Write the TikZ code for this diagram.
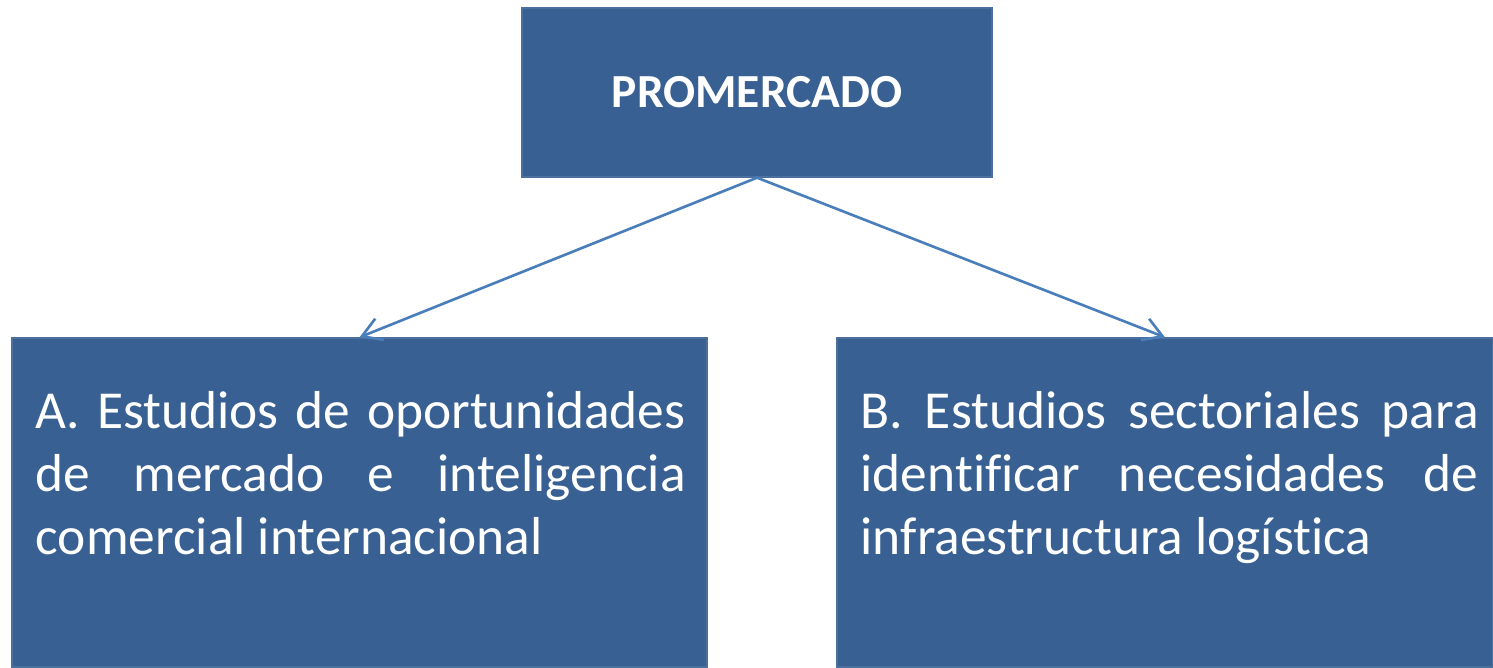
\documentclass[tikz,border=0pt]{standalone}
\usepackage{fontspec}
\setmainfont{Carlito}[Ligatures=NoCommon]
\usepackage{tikz}
\usetikzlibrary{arrows.meta}
\definecolor{boxblue}{RGB}{56,96,146}
\definecolor{linkblue}{RGB}{74,126,187}
\tikzstyle{blk}=[rectangle, inner sep=0pt, draw=boxblue!90!white, line width=0.4pt, fill=boxblue]
\tikzstyle{head}=[font=\fontsize{13.5}{16}\selectfont\bfseries, text=white]
\tikzstyle{body}=[anchor=north west, inner sep=0pt, text=white, align=justify, font=\fontsize{15.2}{17.9}\selectfont]
\tikzstyle{link}=[draw=linkblue, line width=0.75pt, -{Straight Barb[length=5.4pt, width=6.5pt]}]

\begin{document}
\begin{tikzpicture}
	\useasboundingbox (0,0) rectangle (14.93,6.67);
	\draw (7.57,5.745) node[blk, minimum width=4.70cm, minimum height=1.69cm] (prom) {};
	\draw (prom.center) node[head] (promtxt) {PROMERCADO};
	\draw (3.595,1.645) node[blk, minimum width=6.95cm, minimum height=3.29cm] (estA) {};
	\draw (11.65,1.645) node[blk, minimum width=6.56cm, minimum height=3.29cm] (estB) {};
	\draw (0.35,2.76) node[body, text width=6.5cm] (txtA) {A. Estudios de oportunidades\linebreak de mercado e inteligencia\linebreak comercial internacional};
	\draw (8.60,2.76) node[body, text width=6.18cm] (txtB) {B. Estudios sectoriales para\linebreak identificar necesidades de\linebreak infraestructura logística};
	\draw[link] (prom.south) -- (estA.north);
	\draw[link] (prom.south) -- (estB.north);
\end{tikzpicture}
\end{document}
